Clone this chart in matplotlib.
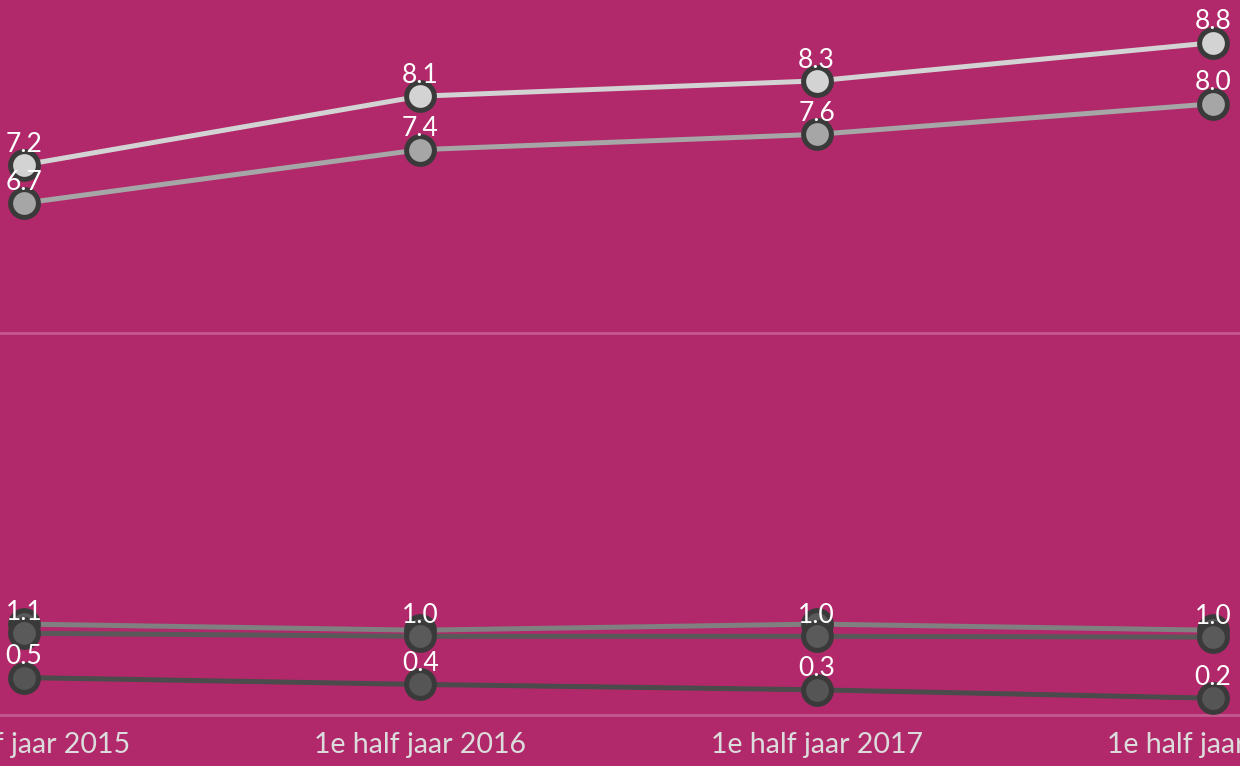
import matplotlib.pyplot as plt

# --- data ---
periods = ["1e half jaar 2015", "1e half jaar 2016", "1e half jaar 2017", "1e half jaar 2018"]
serie_1 = [7.2, 8.1, 8.3, 8.8]
serie_2 = [6.7, 7.4, 7.6, 8.0]
serie_3 = [1.19, 1.11, 1.19, 1.11]
serie_4 = [1.07, 1.03, 1.03, 1.02]
serie_5 = [0.49, 0.40, 0.33, 0.22]

bg = "#B1296A"
x = list(range(len(periods)))

fig = plt.figure(figsize=(12.4, 7.66), dpi=100, facecolor=bg)
ax = fig.add_axes([0, 51 / 766, 1, 715 / 766])
ax.set_facecolor(bg)

# (values, line colour, marker fill, show labels)
series = [
    (serie_1, "#D3D3D3", "#D3D3D3", True),
    (serie_2, "#A6A6A6", "#A6A6A6", True),
    (serie_3, "#808080", "#5A5A5A", False),
    (serie_4, "#595959", "#5A5A5A", True),
    (serie_5, "#4B4B4B", "#555555", True),
]

for vals, lc, mc, show in series:
    ax.plot(x, vals, '-', color=lc, lw=3.6, zorder=3, clip_on=False)
    ax.plot(x, vals, 'o', ms=20, mfc=mc, mec="#3A3A3A", mew=3.6, zorder=4, clip_on=False)
    if show:
        for xi, v in zip(x, vals):
            ax.annotate(f"{v:.1f}", (xi, v), xytext=(0, 6), textcoords="offset points",
                        ha="center", va="bottom", color="white", fontsize=19,
                        family="Lato", zorder=6)

ax.set_xlim(-24 / 396.33, 3 + 27 / 396.33)
ax.set_ylim(0, 715 / 76.4)
ax.set_yticks([0, 5])
ax.grid(axis="y", color="#C45A8E", lw=2)
for gl in ax.yaxis.get_gridlines():
    gl.set_clip_on(False)
ax.set_xticks(x, periods)
ax.tick_params(axis="x", length=0, pad=12, labelsize=20.5, labelcolor="#DCDCDC")
ax.tick_params(axis="y", length=0, labelleft=False)
for lbl in ax.get_xticklabels():
    lbl.set_family("Lato")
for s in ax.spines.values():
    s.set_visible(False)

fig.savefig("out.png", dpi=100, facecolor=bg)
